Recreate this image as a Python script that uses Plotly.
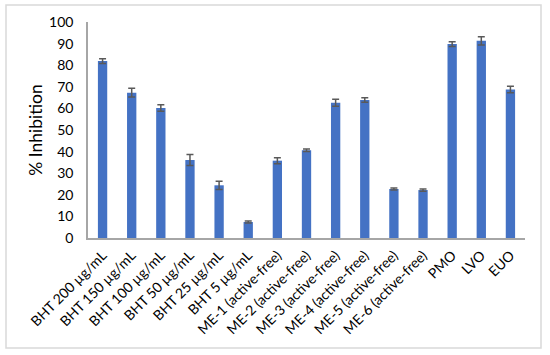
import plotly.graph_objects as go

categories = ["BHT 200 µg/mL", "BHT 150 µg/mL", "BHT 100 µg/mL", "BHT 50 µg/mL",
              "BHT 25 µg/mL", "BHT 5 µg/mL", "ME-1 (active-free)", "ME-2 (active-free)",
              "ME-3 (active-free)", "ME-4 (active-free)", "ME-5 (active-free)",
              "ME-6 (active-free)", "PMO", "LVO", "EUO"]
inhibition = [81.9, 67.3, 60.2, 36.1, 24.4, 7.4, 35.8, 40.6, 62.6, 63.9, 22.7, 22.2, 89.8, 91.3, 68.8]
errors = [1.1, 2.0, 1.5, 2.5, 1.9, 0.5, 1.4, 0.6, 1.6, 1.0, 0.5, 0.5, 1.1, 1.9, 1.5]
y_ticks = [0, 10, 20, 30, 40, 50, 60, 70, 80, 90, 100]

fig = go.Figure(go.Bar(
    x=categories, y=inhibition,
    marker=dict(color="#4472C4", line=dict(width=0)),
    error_y=dict(type="data", array=errors, visible=True, color="#595959",
                 thickness=1.5, width=3.5),
))

L, R, T, B = 88, 25, 22, 117
W, H = 550, 355
pw, ph = W - L - R, H - T - B

fig.update_layout(
    width=W, height=H,
    margin=dict(l=L, r=R, t=T, b=B),
    paper_bgcolor="white", plot_bgcolor="white",
    bargap=0.68,
    showlegend=False,
    font=dict(family="Lato, Noto Sans, sans-serif", color="#000000"),
    xaxis=dict(
        tickangle=-45, tickfont=dict(size=14), showline=True, linecolor="#A6A6A6",
        linewidth=1.5, ticks="", showgrid=False, automargin=False,
        ticklabelstandoff=2,
    ),
    yaxis=dict(
        range=[0, 100], tickvals=y_ticks, tickfont=dict(size=14), showline=True,
        linecolor="#A6A6A6", linewidth=1.5, ticks="", showgrid=False, zeroline=False,
        automargin=False, ticklabelstandoff=10,
        title=dict(text="% Inhibition", font=dict(size=17.5), standoff=2),
    ),
    shapes=[dict(type="rect", xref="paper", yref="paper",
                 x0=(6 - L) / pw, x1=(541 - L) / pw,
                 y0=(T + ph - 348) / ph, y1=(T + ph - 5) / ph,
                 line=dict(color="#D9D9D9", width=1.5), fillcolor="rgba(0,0,0,0)")],
)

fig.write_html("out.html", config={"displayModeBar": False},
               post_script="document.body.style.margin='0';document.body.style.overflow='hidden';")
